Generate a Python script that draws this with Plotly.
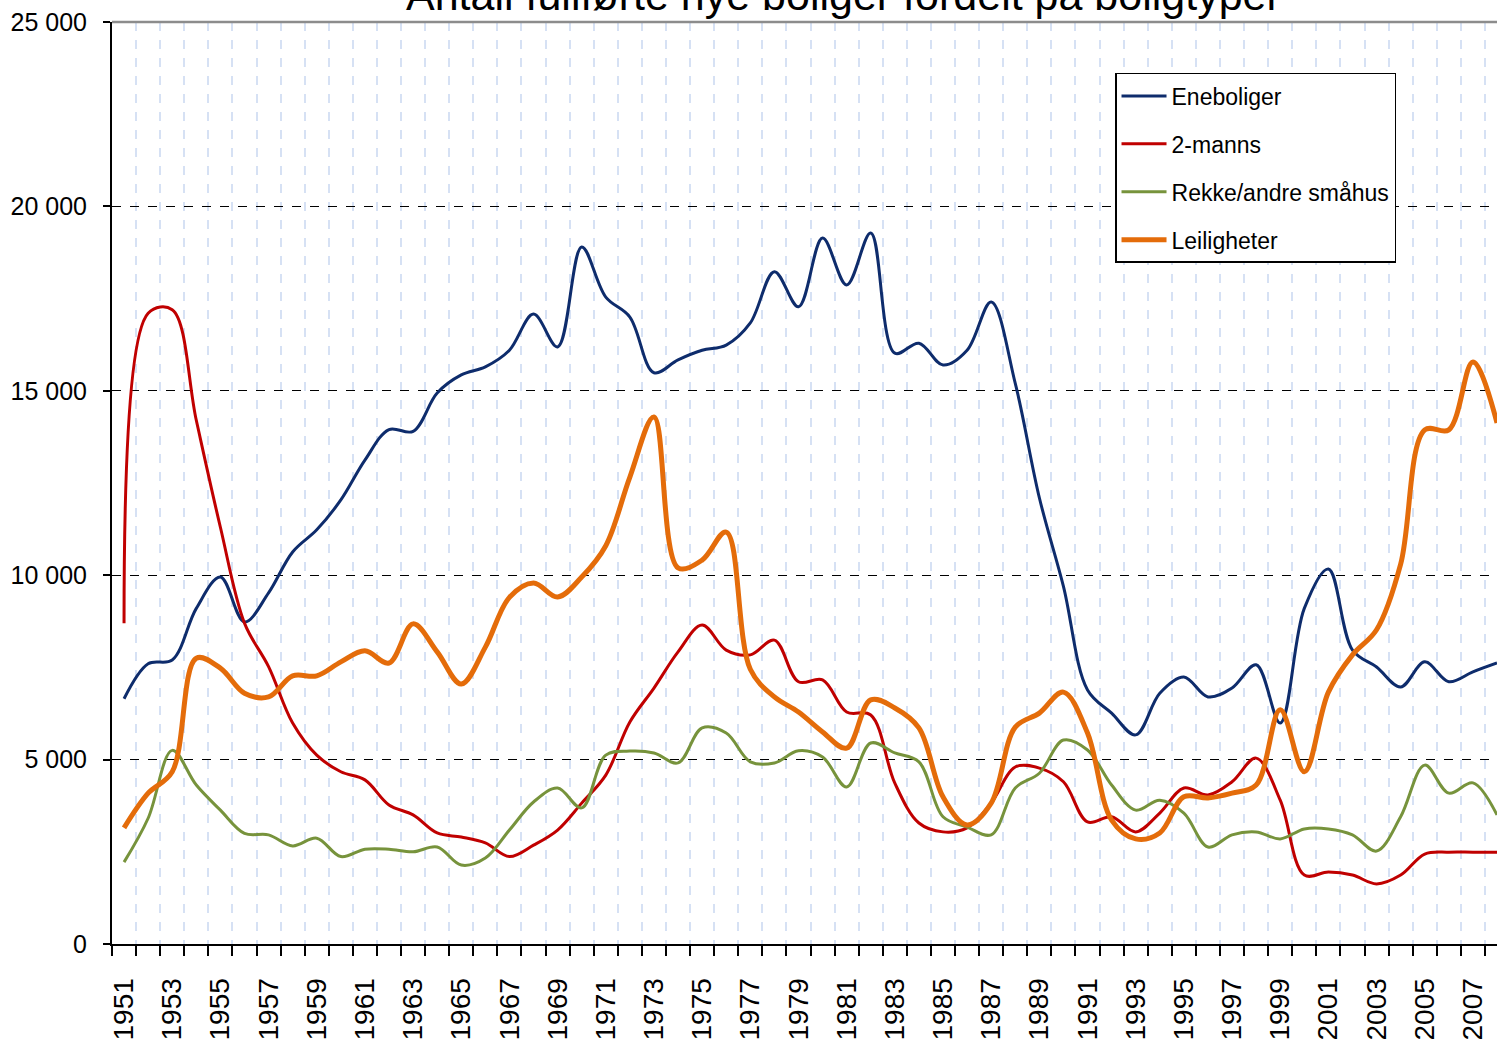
import plotly.graph_objects as go

years = list(range(1951, 2009))

eneboliger = [6650, 7600, 7700, 9100, 9950, 8730, 9520, 10630, 11230, 12040,
              13120, 13950, 13900, 14940, 15430, 15650, 16100, 17080, 16190, 18900,
              17540, 17000, 15490, 15840, 16100, 16240, 16840, 18230, 17280, 19140,
              17870, 19280, 16020, 16290, 15700, 16100, 17410, 15200, 12100, 9700,
              6890, 6260, 5670, 6800, 7240, 6700, 6940, 7570, 5990, 9100,
              10170, 7970, 7510, 6970, 7650, 7110, 7380, 7620]

tomanns = [8700, 17100, 17200, 14200, 11300, 8700, 7520, 5990, 5120, 4670,
           4450, 3770, 3500, 3010, 2900, 2740, 2370, 2680, 3090, 3820,
           4580, 6020, 6940, 7920, 8650, 7970, 7840, 8240, 7110, 7160,
           6290, 6210, 4360, 3280, 3040, 3150, 3820, 4800, 4770, 4400,
           3310, 3450, 3040, 3550, 4230, 4040, 4400, 5040, 3900, 1870,
           1950, 1870, 1630, 1870, 2440, 2490, 2490, 2490]

rekke = [2220, 3410, 5250, 4310, 3630, 3000, 2960, 2660, 2870, 2370,
         2570, 2570, 2500, 2630, 2140, 2330, 3090, 3850, 4230, 3690,
         5120, 5230, 5180, 4910, 5860, 5720, 4940, 4910, 5240, 5070,
         4260, 5450, 5180, 4940, 3450, 3170, 2960, 4230, 4630, 5530,
         5260, 4310, 3630, 3900, 3550, 2630, 2960, 3040, 2850, 3120,
         3120, 2960, 2520, 3450, 4850, 4090, 4370, 3500]

leiligheter = [3150, 4090, 4670, 7750, 7480, 6800, 6700, 7270, 7270, 7650,
               7950, 7620, 8680, 7920, 7050, 8050, 9400, 9790, 9410, 9950,
               10800, 12660, 14290, 10200, 10410, 11170, 7450, 6700, 6290, 5750,
               5310, 6620, 6400, 5860, 3990, 3230, 3820, 5880, 6260, 6830,
               5720, 3360, 2850, 3010, 3990, 3960, 4090, 4310, 6350, 4670,
               6830, 7840, 8520, 10300, 13940, 13940, 15780, 14130]

series = [
    ("Eneboliger", eneboliger, "#0E2C6C", 3),
    ("2-manns", tomanns, "#C00000", 3),
    ("Rekke/andre småhus", rekke, "#77933C", 3),
    ("Leiligheter", leiligheter, "#E46C0A", 5),
]

y_tick_vals = [0, 5000, 10000, 15000, 20000, 25000]
y_tick_text = ["0", "5 000", "10 000", "15 000", "20 000", "25 000"]
x_label_years = list(range(1951, 2008, 2))
x_label_text = [str(y) for y in x_label_years]
boundaries = [y - 0.5 for y in range(1951, 2009)]

FONT = "Arial, Liberation Sans, sans-serif"

fig = go.Figure()
for i, (name, vals, color, width) in enumerate(series):
    fig.add_trace(go.Scatter(
        x=years, y=vals, name=name, mode="lines",
        line=dict(color=color, width=width, shape="spline", smoothing=1.0),
        legendgroup=f"g{i}",
    ))

fig.update_layout(
    width=1497, height=1045,
    margin=dict(l=112, r=0, t=22, b=101),
    paper_bgcolor="white", plot_bgcolor="white",
    font=dict(family=FONT, size=24, color="black"),
    showlegend=True,
    legend=dict(
        x=0.7242, y=0.9447, xanchor="left", yanchor="top",
        bgcolor="white", bordercolor="black", borderwidth=1.5,
        font=dict(family=FONT, size=23, color="black"),
        tracegroupgap=15, traceorder="grouped", itemwidth=45,
    ),
    xaxis=dict(
        range=[1950.5, 2008.0], automargin=False,
        tickmode="array", tickvals=x_label_years, ticktext=x_label_text,
        tickangle=-90, ticks="", showgrid=False, zeroline=False,
        showline=True, linecolor="black", linewidth=2,
        tickfont=dict(family=FONT, size=28, color="black"),
        ticklabelstandoff=21,
        minor=dict(tickmode="array", tickvals=boundaries, ticks="outside",
                   ticklen=10, tickwidth=2, tickcolor="black",
                   showgrid=True, gridcolor="#D6E1F4", griddash="dash", gridwidth=1.5),
    ),
    yaxis=dict(
        range=[0, 25000], automargin=False,
        tickmode="array", tickvals=y_tick_vals, ticktext=y_tick_text,
        ticks="outside", ticklen=7, tickwidth=2, tickcolor="black",
        showgrid=True, gridcolor="black", griddash="dash", gridwidth=1.2,
        zeroline=False, showline=True, linecolor="black", linewidth=2,
        tickfont=dict(family=FONT, size=25, color="black"),
        ticklabelstandoff=11,
    ),
    shapes=[dict(type="line", xref="paper", yref="paper", x0=0, x1=1, y0=1, y1=1,
                 line=dict(color="#8C8C8C", width=2.5), layer="above")],
    annotations=[dict(
        text="Antall fullførte nye boliger fordelt på boligtyper",
        xref="paper", yref="paper", x=0.528, y=1.029,
        xanchor="center", yanchor="middle", showarrow=False,
        font=dict(family=FONT, size=43, color="black"),
    )],
)

fig.write_html("out.html", config={"displayModeBar": False},
               post_script="document.body.style.margin='0';")
